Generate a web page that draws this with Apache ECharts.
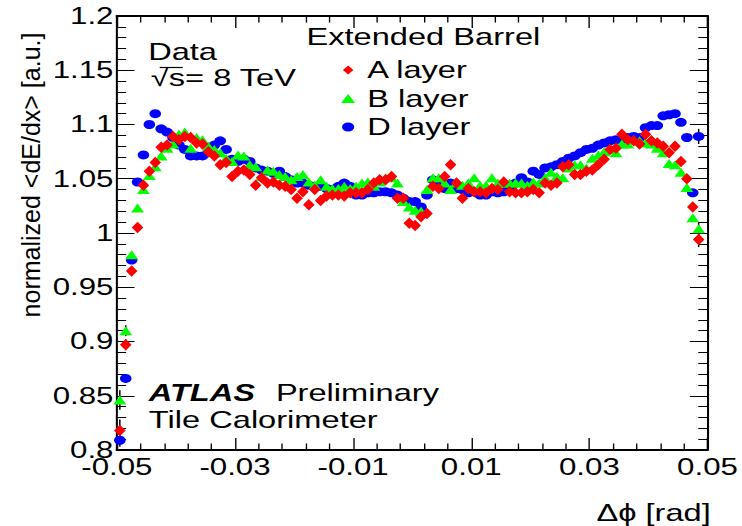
<!DOCTYPE html>
<html>
<head>
<meta charset="utf-8">
<script src="https://cdn.jsdelivr.net/npm/echarts@6/dist/echarts.min.js"></script>
<style>
  html, body { margin: 0; padding: 0; background: #fff; overflow: hidden; }
  /* the canvas is laid out on a narrower page and widened like the original plot */
  #chart { width: 546px; height: 526px; transform: scaleX(1.359); transform-origin: 0 0; }
</style>
</head>
<body>
<div id="chart"></div>
<script>
// bin centres in delta-phi [rad]
const dphi = [
  -0.0495, -0.0485, -0.0475, -0.0465, -0.0455, -0.0445, -0.0435, -0.0425, -0.0415, -0.0405,
  -0.0395, -0.0385, -0.0375, -0.0365, -0.0355, -0.0345, -0.0335, -0.0325, -0.0315, -0.0305,
  -0.0295, -0.0285, -0.0275, -0.0265, -0.0255, -0.0245, -0.0235, -0.0225, -0.0215, -0.0205,
  -0.0195, -0.0185, -0.0175, -0.0165, -0.0155, -0.0145, -0.0135, -0.0125, -0.0115, -0.0105,
  -0.0095, -0.0085, -0.0075, -0.0065, -0.0055, -0.0045, -0.0035, -0.0025, -0.0015, -0.0005,
   0.0005,  0.0015,  0.0025,  0.0035,  0.0045,  0.0055,  0.0065,  0.0075,  0.0085,  0.0095,
   0.0105,  0.0115,  0.0125,  0.0135,  0.0145,  0.0155,  0.0165,  0.0175,  0.0185,  0.0195,
   0.0205,  0.0215,  0.0225,  0.0235,  0.0245,  0.0255,  0.0265,  0.0275,  0.0285,  0.0295,
   0.0305,  0.0315,  0.0325,  0.0335,  0.0345,  0.0355,  0.0365,  0.0375,  0.0385,  0.0395,
   0.0405,  0.0415,  0.0425,  0.0435,  0.0445,  0.0455,  0.0465,  0.0475,  0.0485
];

// normalized <dE/dx> per layer
const layerA = [
  0.818, 0.897, 0.965, 1.005, 1.044, 1.057, 1.065, 1.079, 1.081, 1.089,
  1.086, 1.089, 1.088, 1.083, 1.082, 1.075, 1.071, 1.063, 1.065, 1.052,
  1.057, 1.058, 1.054, 1.044, 1.051, 1.046, 1.047, 1.044, 1.043, 1.040,
  1.032, 1.038, 1.026, 1.040, 1.030, 1.034, 1.035, 1.035, 1.034, 1.037,
  1.037, 1.037, 1.040, 1.046, 1.049, 1.049, 1.052, 1.032, 1.032, 1.009,
  1.007, 1.015, 1.018, 1.043, 1.041, 1.052, 1.063, 1.046, 1.032, 1.041,
  1.038, 1.038, 1.037, 1.041, 1.040, 1.047, 1.038, 1.037, 1.037, 1.038,
  1.040, 1.037, 1.046, 1.044, 1.046, 1.061, 1.063, 1.054, 1.054, 1.057,
  1.058, 1.063, 1.068, 1.077, 1.078, 1.091, 1.086, 1.085, 1.082, 1.091,
  1.085, 1.083, 1.080, 1.074, 1.080, 1.066, 1.050, 1.024, 0.994
];
const layerB = [
  0.846, 0.910, 0.980, 1.023, 1.040, 1.053, 1.061, 1.071, 1.078, 1.082,
  1.091, 1.093, 1.078, 1.088, 1.086, 1.080, 1.077, 1.074, 1.069, 1.066,
  1.072, 1.071, 1.063, 1.061, 1.052, 1.058, 1.057, 1.054, 1.052, 1.049,
  1.052, 1.054, 1.047, 1.044, 1.049, 1.043, 1.041, 1.041, 1.043, 1.041,
  1.043, 1.046, 1.047, 1.043, 1.047, 1.051, 1.051, 1.046, 1.029, 1.024,
  1.021, 1.020, 1.040, 1.051, 1.051, 1.046, 1.040, 1.046, 1.044, 1.046,
  1.051, 1.044, 1.044, 1.051, 1.046, 1.046, 1.046, 1.046, 1.046, 1.044,
  1.047, 1.046, 1.051, 1.056, 1.052, 1.051, 1.060, 1.063, 1.063, 1.060,
  1.069, 1.072, 1.075, 1.077, 1.074, 1.082, 1.082, 1.086, 1.085, 1.083,
  1.082, 1.078, 1.074, 1.064, 1.063, 1.056, 1.042, 1.014, 1.004
];
const layerD = [
  0.809, 0.866, 0.975, 1.047, 1.072, 1.100, 1.110, 1.096, 1.093, 1.088,
  1.081, 1.077, 1.071, 1.071, 1.071, 1.074, 1.081, 1.085, 1.077, 1.068,
  1.066, 1.068, 1.066, 1.060, 1.058, 1.057, 1.055, 1.057, 1.052, 1.049,
  1.046, 1.046, 1.044, 1.043, 1.043, 1.041, 1.040, 1.043, 1.046, 1.043,
  1.035, 1.035, 1.037, 1.037, 1.038, 1.038, 1.037, 1.035, 1.032, 1.029,
  1.029, 1.024, 1.035, 1.049, 1.043, 1.041, 1.046, 1.041, 1.040, 1.037,
  1.038, 1.035, 1.035, 1.038, 1.037, 1.038, 1.041, 1.046, 1.051, 1.047,
  1.057, 1.054, 1.060, 1.061, 1.063, 1.066, 1.069, 1.071, 1.074, 1.077,
  1.078, 1.081, 1.083, 1.085, 1.086, 1.086, 1.088, 1.089, 1.088, 1.097,
  1.099, 1.099, 1.108, 1.109, 1.110, 1.102, 1.088, 1.037, 1.089
];

// statistical errors, only large enough to show at the edge bins
const errBins = [0, 1, 98];
const errA = [0.010, 0.005, 0.007];
const errB = [0.009, 0.005, 0.006];
const errD = [0.006, 0.004, 0.007];

const seriesNames = ['A layer', 'B layer', 'D layer'];
const xTickLabels = ['-0.05', '-0.03', '-0.01', '0.01', '0.03', '0.05'];

// the x axis runs over [0, 0.1] so that its major ticks fall on -0.05, -0.03, ...
const X_SHIFT = 0.05;
const FONT = '"Liberation Sans", Arial, Helvetica, sans-serif';
const SX = 1.359; // horizontal widening applied to the page

function points(values) {
  return dphi.map((x, i) => [x + X_SHIFT, values[i]]);
}
function errorBars(values, errs) {
  return errBins.map((b, k) => [dphi[b] + X_SHIFT, values[b] - errs[k], values[b] + errs[k]]);
}

const chart = echarts.init(document.getElementById('chart'), null, { renderer: 'svg' });

const axisLine = (w) => ({ show: true, onZero: false, lineStyle: { color: '#000', width: w } });
const xTicks = {
  axisLine: axisLine(2),
  axisTick: { show: true, inside: true, length: 12, lineStyle: { color: '#000', width: 1 } },
  minorTick: { show: true, splitNumber: 5, length: 6.5, lineStyle: { color: '#000', width: 1 } },
  splitLine: { show: false }
};
const yTicks = {
  axisLine: axisLine(1.5),
  axisTick: { show: true, inside: true, length: 13, lineStyle: { color: '#000', width: 1 } },
  minorTick: { show: true, splitNumber: 5, length: 6.8, lineStyle: { color: '#000', width: 1 } },
  splitLine: { show: false }
};

const errorSeries = (values, errs) => ({
  type: 'custom', z: 1, silent: true,
  encode: { x: 0, y: [1, 2] },
  renderItem: (params, api) => {
    const lo = api.coord([api.value(0), api.value(1)]);
    const hi = api.coord([api.value(0), api.value(2)]);
    return {
      type: 'line',
      shape: { x1: lo[0], y1: lo[1], x2: hi[0], y2: hi[1] },
      style: { stroke: '#000', lineWidth: 1.1 }
    };
  },
  data: errorBars(values, errs)
});

const label = (text, x, y, extra) => ({
  type: 'text', x: x, y: y,
  style: Object.assign({ text: text, font: '24px ' + FONT, fill: '#000', textAlign: 'left', textVerticalAlign: 'middle' }, extra || {})
});

chart.setOption({
  animation: false,
  backgroundColor: '#fff',
  grid: { left: 86, right: 22, top: 16, bottom: 76, containLabel: false },
  xAxis: [
    Object.assign({
      type: 'value', min: 0, max: 0.1, interval: 0.02, position: 'bottom',
      axisLabel: {
        color: '#000', fontSize: 23, fontFamily: FONT, margin: 10, lineHeight: 14,
        formatter: (v) => xTickLabels[Math.round(v / 0.02)]
      }
    }, xTicks),
    Object.assign({
      type: 'value', min: 0, max: 0.1, interval: 0.02, position: 'top',
      axisLabel: { show: false }
    }, xTicks)
  ],
  yAxis: [
    Object.assign({
      type: 'value', min: 0.8, max: 1.2, interval: 0.05, position: 'left',
      axisLabel: {
        color: '#000', fontSize: 23, fontFamily: FONT, margin: 2.5, lineHeight: 14,
        formatter: (v) => String(+v.toFixed(2))
      }
    }, yTicks),
    Object.assign({
      type: 'value', min: 0.8, max: 1.2, interval: 0.05, position: 'right',
      axisLabel: { show: false }
    }, yTicks)
  ],
  legend: {
    data: [
      { name: seriesNames[0], icon: 'path://M0,5L4.3,0L8.6,5L4.3,10Z' },
      { name: seriesNames[1], icon: 'path://M0,8.7L5,0L10,8.7Z' },
      { name: seriesNames[2], icon: 'path://M5,0A5,5,0,1,1,5,10A5,5,0,1,1,5,0Z' }
    ],
    symbolKeepAspect: true,
    orient: 'vertical',
    left: 251, top: 58, padding: 0,
    itemWidth: 18, itemHeight: 9, itemGap: 4.5,
    selectedMode: false,
    textStyle: { color: '#000', fontSize: 24, fontFamily: FONT, lineHeight: 24 }
  },
  series: [
    errorSeries(layerD, errD),
    errorSeries(layerB, errB),
    errorSeries(layerA, errA),
    {
      name: 'D layer', type: 'scatter', z: 2, silent: true,
      symbol: 'circle', symbolSize: [8.5, 9],
      itemStyle: { color: '#0000ff', opacity: 1 },
      data: points(layerD)
    },
    {
      name: 'B layer', type: 'scatter', z: 3, silent: true,
      symbol: 'triangle', symbolSize: [9.5, 9],
      itemStyle: { color: '#00ff00', opacity: 1 },
      data: points(layerB)
    },
    {
      name: 'A layer', type: 'scatter', z: 4, silent: true,
      symbol: 'diamond', symbolSize: [8.5, 11.5],
      itemStyle: { color: '#ff0000', opacity: 1 },
      data: points(layerA)
    }
  ],
  graphic: [
    label('Extended Barrel', 225.5, 37),
    label('Data', 109, 52),
    label('\u221As= 8 TeV', 111, 78),
    { type: 'line', shape: { x1: 117.5, y1: 67.5, x2: 134.5, y2: 67.5 }, style: { stroke: '#000', lineWidth: 1.2 } },
    label('ATLAS', 109.5, 392.5, { font: 'italic bold 24px ' + FONT }),
    label('Preliminary', 203, 392.5),
    label('Tile Calorimeter', 109.5, 419.5),
    label('\u0394\u03D5 [rad]', 523, 513, { textAlign: 'right' }),
    {
      type: 'text', x: 23, y: 175, rotation: Math.PI / 2, scaleX: 1, scaleY: 1 / SX,
      style: { text: 'normalized <dE/dx> [a.u.]', font: '25px ' + FONT, fill: '#000', textAlign: 'center', textVerticalAlign: 'middle' }
    }
  ]
});
</script>
</body>
</html>
